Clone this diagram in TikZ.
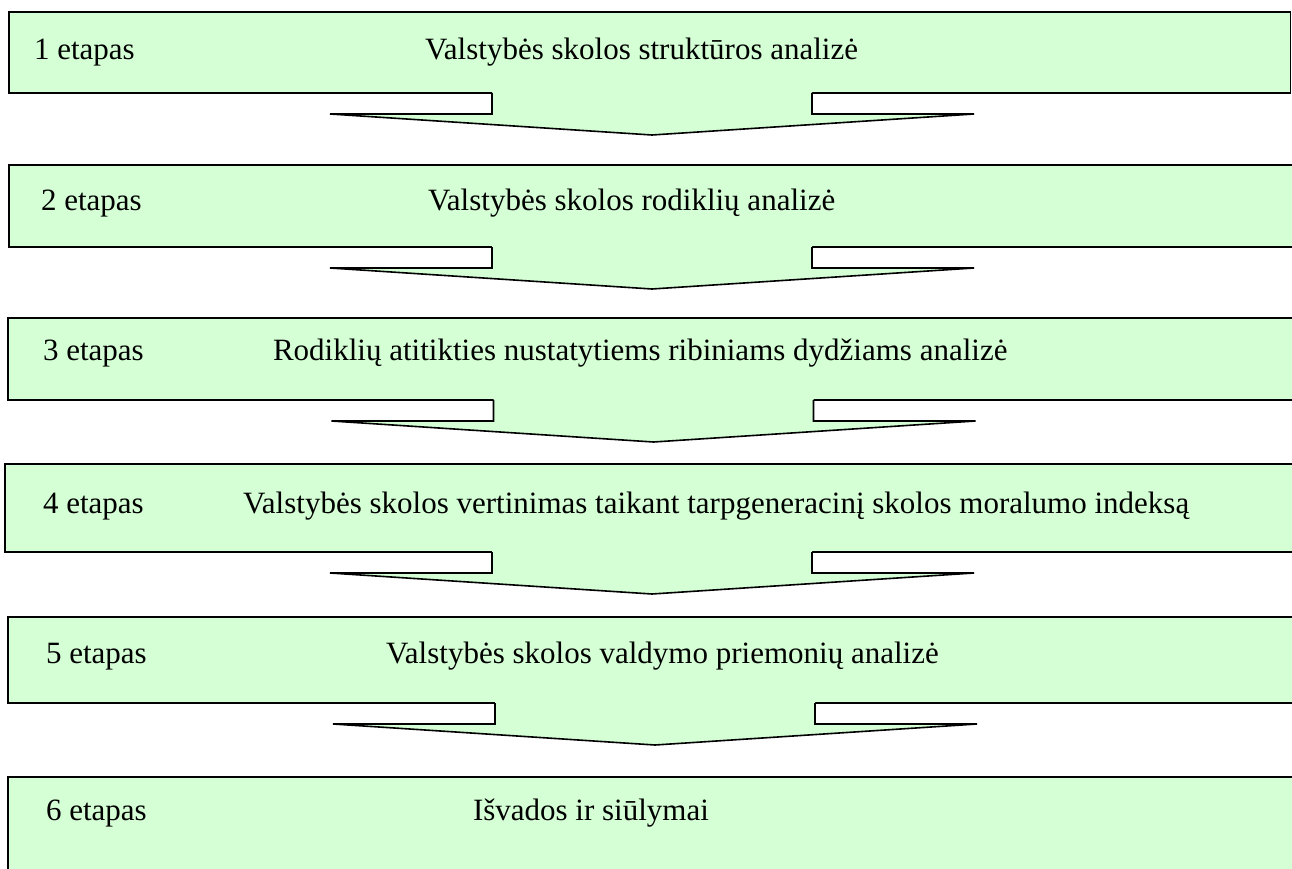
\documentclass[tikz,border=0pt]{standalone}
\usepackage{fontspec}
\setmainfont{Liberation Serif}
\definecolor{stagefill}{RGB}{213,255,213}
\tikzset{
  stagebox/.style={draw=black, line width=1.6pt, fill=stagefill, anchor=north west,
    inner sep=0pt, outer sep=0pt},
  stagetext/.style={anchor=base west, inner sep=0pt, outer sep=0pt,
    font=\fontsize{31}{36}\selectfont},
  arrowfill/.style={fill=stagefill},
  arrowline/.style={draw=black, line width=1.6pt, line join=miter},
}
% block arrow hanging below a stage box: #1 = start coordinate on the box bottom
\newcommand\stagearrow[1]{%
  \begin{scope}[shift={(#1)}]
    \path[arrowfill] (-160,-1.5) -- (-160,21) -- (-322,21) -- (0,42) -- (322,21)
      -- (160,21) -- (160,-1.5) -- cycle;
    \draw[arrowline] (-160,0) -- (-160,21) -- (-322,21) -- (0,42) -- (322,21)
      -- (160,21) -- (160,0);
  \end{scope}}

\begin{document}
\begin{tikzpicture}[x=1pt,y=-1pt]
\useasboundingbox (0,0) rectangle (1292,869);
\clip (0,0) rectangle (1292,869);

% stage boxes
\node[stagebox, minimum width=1281.5pt, minimum height=81pt] (b1) at (9,12) {};
\node[stagebox, minimum width=1300pt, minimum height=82pt] (b2) at (9,165) {};
\node[stagebox, minimum width=1300pt, minimum height=82pt] (b3) at (8,318) {};
\node[stagebox, minimum width=1300pt, minimum height=88pt] (b4) at (5,464) {};
\node[stagebox, minimum width=1300pt, minimum height=86pt] (b5) at (8,617) {};
\node[stagebox, minimum width=1300pt, minimum height=120pt] (b6) at (8,777) {};

% arrows between consecutive stages
\coordinate (a1) at (652,0 |- b1.south);
\coordinate (a2) at (652,0 |- b2.south);
\coordinate (a3) at (653.5,0 |- b3.south);
\coordinate (a4) at (652,0 |- b4.south);
\coordinate (a5) at (655,0 |- b5.south);
\stagearrow{a1}
\stagearrow{a2}
\stagearrow{a3}
\stagearrow{a4}
\stagearrow{a5}

% stage numbers
\node[stagetext] (l1) at (34,60) {1 etapas};
\node[stagetext] (l2) at (41,210) {2 etapas};
\node[stagetext] (l3) at (43,360) {3 etapas};
\node[stagetext] (l4) at (43,513) {4 etapas};
\node[stagetext] (l5) at (46,663) {5 etapas};
\node[stagetext] (l6) at (46,820) {6 etapas};

% stage titles
\node[stagetext] (t1) at (425,60) {Valstybės skolos struktūros analizė};
\node[stagetext] (t2) at (428,210) {Valstybės skolos rodiklių analizė};
\node[stagetext] (t3) at (273,360) {Rodiklių atitikties nustatytiems ribiniams dydžiams analizė};
\node[stagetext] (t4) at (243,513) {Valstybės skolos vertinimas taikant tarpgeneracinį skolos moralumo indeksą};
\node[stagetext] (t5) at (386,663) {Valstybės skolos valdymo priemonių analizė};
\node[stagetext] (t6) at (473,820) {Išvados ir siūlymai};
\end{tikzpicture}
\end{document}
